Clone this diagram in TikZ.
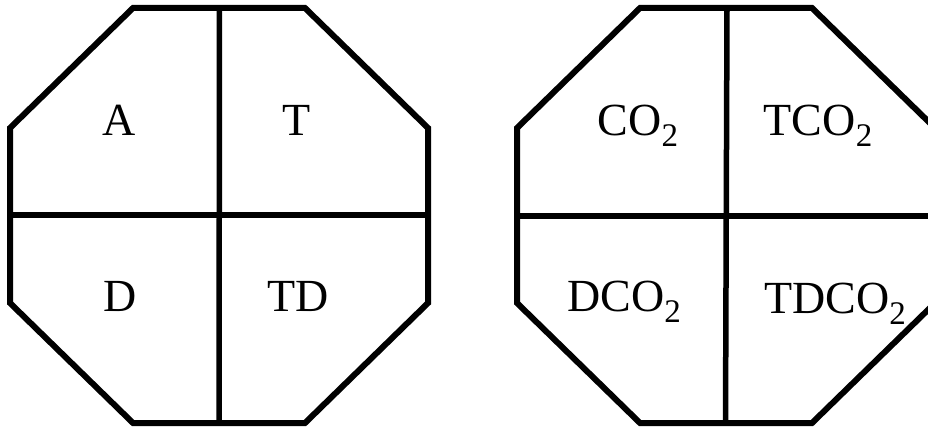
\documentclass[tikz,border=0pt]{standalone}
\usepackage{fontspec}
\setmainfont{Liberation Serif}
% chemical subscript, set a little larger and lower than the default one
\newcommand{\lowtwo}{\raisebox{-11pt}{\fontsize{33}{33}\selectfont 2}}
\begin{document}
\begin{tikzpicture}[x=1pt,y=-1pt,
  rim/.style={line width=6pt,line join=miter},
  divider/.style={line width=5.5pt},
  cell/.style={font=\fontsize{46}{50}\selectfont,anchor=base,inner sep=0pt}]
\useasboundingbox (0,0) rectangle (928,427);
\clip (0,0) rectangle (928,427);

% left octagon
\coordinate (L1) at (133,8);   \coordinate (L2) at (305,8);
\coordinate (L3) at (428,128); \coordinate (L4) at (428,303);
\coordinate (L5) at (305,423); \coordinate (L6) at (133,423);
\coordinate (L7) at (10,303);  \coordinate (L8) at (10,128);
\coordinate (Lt) at (219.5,8); \coordinate (Lb) at (219,423);
\coordinate (Ll) at (10,215);  \coordinate (Lr) at (428,215);
\draw[divider] (Lt) -- (Lb);
\draw[divider] (Ll) -- (Lr);
\draw[rim] (L1) -- (L2) -- (L3) -- (L4) -- (L5) -- (L6) -- (L7) -- (L8) -- cycle;

\node[cell] (a)  at (119,136) {A};
\node[cell] (t)  at (297,136) {T};
\node[cell] (d)  at (120,312) {D};
\node[cell] (td) at (298,312) {TD};

% right octagon
\coordinate (R1) at (640,8);   \coordinate (R2) at (812,8);
\coordinate (R3) at (935,128); \coordinate (R4) at (935,303);
\coordinate (R5) at (812,423); \coordinate (R6) at (640,423);
\coordinate (R7) at (517,303); \coordinate (R8) at (517,128);
\coordinate (Rt) at (727,8);   \coordinate (Rb) at (725.5,423);
\coordinate (Rl) at (517,216); \coordinate (Rr) at (935,216);
\draw[divider] (Rt) -- (Rb);
\draw[divider] (Rl) -- (Rr);
\draw[rim] (R1) -- (R2) -- (R3) -- (R4) -- (R5) -- (R6) -- (R7) -- (R8) -- cycle;

\node[cell] (co)   at (638,136) {CO\lowtwo};
\node[cell] (tco)  at (818,136) {TCO\lowtwo};
\node[cell] (dco)  at (624,312) {DCO\lowtwo};
\node[cell] (tdco) at (835,313) {TDCO\lowtwo};
\end{tikzpicture}
\end{document}
